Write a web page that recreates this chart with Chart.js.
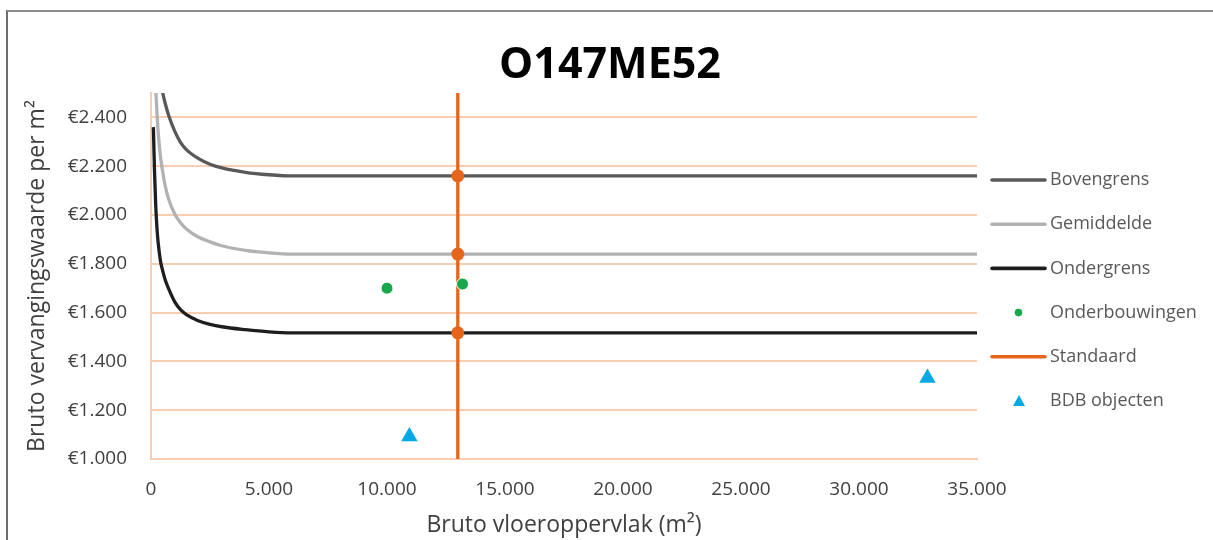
<!DOCTYPE html>
<html><head><meta charset="utf-8">
<script src="https://cdn.jsdelivr.net/npm/chart.js@4.4.1/dist/chart.umd.min.js"></script>
<style>
html,body{margin:0;padding:0;background:#fff;overflow:hidden;}
#wrap{position:relative;width:1213px;height:540px;overflow:hidden;}
#frame{position:absolute;left:6px;top:10px;width:1400px;height:700px;border-left:2px solid #6e6e6e;border-top:2px solid #8c8c8c;pointer-events:none;}
canvas{position:absolute;left:0;top:0;}
</style></head><body>
<div id="wrap"><div id="frame"></div><canvas id="c" width="1213" height="540"></canvas></div>
<script>
// ---- data ----
const chartTitle = 'O147ME52';
const xAxisTitle = 'Bruto vloeroppervlak (m²)';
const yAxisTitle = 'Bruto vervangingswaarde per m²';
const legendOrder = ['Bovengrens','Gemiddelde','Ondergrens','Onderbouwingen','Standaard','BDB objecten'];
const curveX     = [100, 150, 200, 250, 300, 400, 500, 600, 750, 1000, 1250, 1500, 2000, 2500, 3000, 4000, 5000, 6000, 35000];
const bovengrens = [3300, 3000, 2830, 2730, 2660, 2560, 2500, 2458, 2408, 2345, 2298, 2268, 2232, 2208, 2193, 2175, 2165, 2160, 2160];
const gemiddelde = [3000, 2700, 2525, 2425, 2345, 2240, 2175, 2120, 2065, 2005, 1968, 1943, 1910, 1890, 1874, 1855, 1845, 1840, 1840];
const ondergrens = [2360, 2175, 2040, 1950, 1890, 1812, 1770, 1735, 1697, 1645, 1612, 1592, 1567, 1552, 1542, 1530, 1521, 1517, 1517];
const onderbouwingenX = [10000, 13200];
const onderbouwingenY = [1700, 1717];
const standaardX = [13000, 13000, 13000, 13000, 13000];
const standaardY = [1000, 1517, 1840, 2160, 2500];
const standaardMarked = [false, true, true, true, false];
const bdbX = [10950, 32900];
const bdbY = [1092, 1332];
const xTicks = [0, 5000, 10000, 15000, 20000, 25000, 30000, 35000];
const yTicks = [1000, 1200, 1400, 1600, 1800, 2000, 2200, 2400];
const xRange = [0, 35000];
const yRange = [1000, 2500];

// ---- styling ----
const FONT = '"Open Sans", "DejaVu Sans", sans-serif';
const gridColor = '#F9CDAF';
const col = {
  Bovengrens: '#595959', Gemiddelde: '#B2B2B2', Ondergrens: '#1E1E1E',
  Onderbouwingen: '#16A84A', Standaard: '#E5661A', 'BDB objecten': '#07A9E4'
};
const fmt = v => String(v).replace(/\B(?=(\d{3})+(?!\d))/g, '.');
const pts = (xs, ys) => xs.map((x, i) => ({x, y: ys[i]}));

const lineDs = (label, ys, order) => ({
  label, data: pts(curveX, ys), showLine: true, borderColor: col[label],
  backgroundColor: col[label], borderWidth: 3.3, pointRadius: 0,
  cubicInterpolationMode: 'monotone', order
});

const datasets = [
  lineDs('Bovengrens', bovengrens, 6),
  lineDs('Gemiddelde', gemiddelde, 5),
  lineDs('Ondergrens', ondergrens, 4),
  { label: 'Onderbouwingen', data: pts(onderbouwingenX, onderbouwingenY), showLine: false,
    pointStyle: 'circle', pointRadius: 6, backgroundColor: col.Onderbouwingen,
    borderColor: '#ffffff', borderWidth: 1, order: 2 },
  { label: 'Standaard', data: pts(standaardX, standaardY), showLine: true,
    borderColor: col.Standaard, backgroundColor: col.Standaard, borderWidth: 3.3,
    pointRadius: standaardMarked.map(m => m ? 6.5 : 0), pointBorderWidth: 0, order: 3 },
  { label: 'BDB objecten', data: pts(bdbX, bdbY), showLine: false,
    pointStyle: 'triangle', pointRadius: 9.5, backgroundColor: col['BDB objecten'],
    borderColor: col['BDB objecten'], borderWidth: 0, order: 1 }
];

const decor = {
  id: 'decor',
  afterDraw(chart) {
    const ctx = chart.ctx;
    ctx.save();
    // title
    ctx.font = 'bold 43px ' + FONT;
    ctx.fillStyle = '#000';
    ctx.textAlign = 'center';
    ctx.textBaseline = 'alphabetic';
    ctx.fillText(chartTitle, 610, 78);
    // legend
    const lx0 = 992, lx1 = 1045, tx = 1050, ly0 = 180, dy = 44.2;
    ctx.font = '18px ' + FONT;
    ctx.textAlign = 'left';
    ctx.textBaseline = 'middle';
    legendOrder.forEach((name, i) => {
      const ds = chart.data.datasets.find(d => d.label === name);
      const y = ly0 + i * dy;
      const c = col[name];
      if (ds.showLine) {
        ctx.strokeStyle = c; ctx.lineWidth = 3.6; ctx.lineCap = 'round';
        ctx.beginPath(); ctx.moveTo(lx0, y); ctx.lineTo(lx1, y); ctx.stroke();
      } else if (ds.pointStyle === 'triangle') {
        ctx.fillStyle = c;
        ctx.beginPath();
        ctx.moveTo(1019, y - 6); ctx.lineTo(1025, y + 5); ctx.lineTo(1013, y + 5);
        ctx.closePath(); ctx.fill();
      } else {
        ctx.fillStyle = c;
        ctx.beginPath(); ctx.arc(1018.5, y, 3.8, 0, Math.PI * 2); ctx.fill();
      }
      ctx.fillStyle = '#595959';
      ctx.fillText(name, tx, y);
    });
    ctx.restore();
  }
};

new Chart(document.getElementById('c'), {
  type: 'scatter',
  data: { datasets },
  options: {
    responsive: false, animation: false,
    layout: { padding: { top: 93, right: 236, left: 0, bottom: 0 } },
    plugins: { legend: { display: false }, title: { display: false }, tooltip: { enabled: false } },
    scales: {
      x: {
        type: 'linear', min: xRange[0], max: xRange[1],
        afterBuildTicks: s => { s.ticks = xTicks.map(v => ({ value: v })); },
        afterFit: s => { s.height = 81; },
        grid: { display: false, drawTicks: false },
        border: { display: true, color: gridColor, width: 2 },
        ticks: { padding: 19, color: '#404040', font: { family: FONT, size: 19 },
                 callback: v => fmt(v), maxRotation: 0, autoSkip: false },
        title: { display: true, text: xAxisTitle, color: '#404040',
                 font: { family: FONT, size: 23 }, padding: { top: 0, bottom: 1 } }
      },
      y: {
        type: 'linear', min: yRange[0], max: yRange[1],
        afterBuildTicks: s => { s.ticks = yTicks.map(v => ({ value: v })); },
        afterFit: s => { s.width = 151; },
        grid: { color: gridColor, lineWidth: 2, drawTicks: false },
        border: { display: true, color: gridColor, width: 2 },
        ticks: { padding: 24, color: '#404040', font: { family: FONT, size: 19 },
                 callback: v => '€' + fmt(v), autoSkip: false },
        title: { display: true, text: yAxisTitle, color: '#404040',
                 font: { family: FONT, size: 23 }, padding: { top: 24, bottom: 0 } }
      }
    }
  },
  plugins: [decor]
});
</script>
</body></html>
